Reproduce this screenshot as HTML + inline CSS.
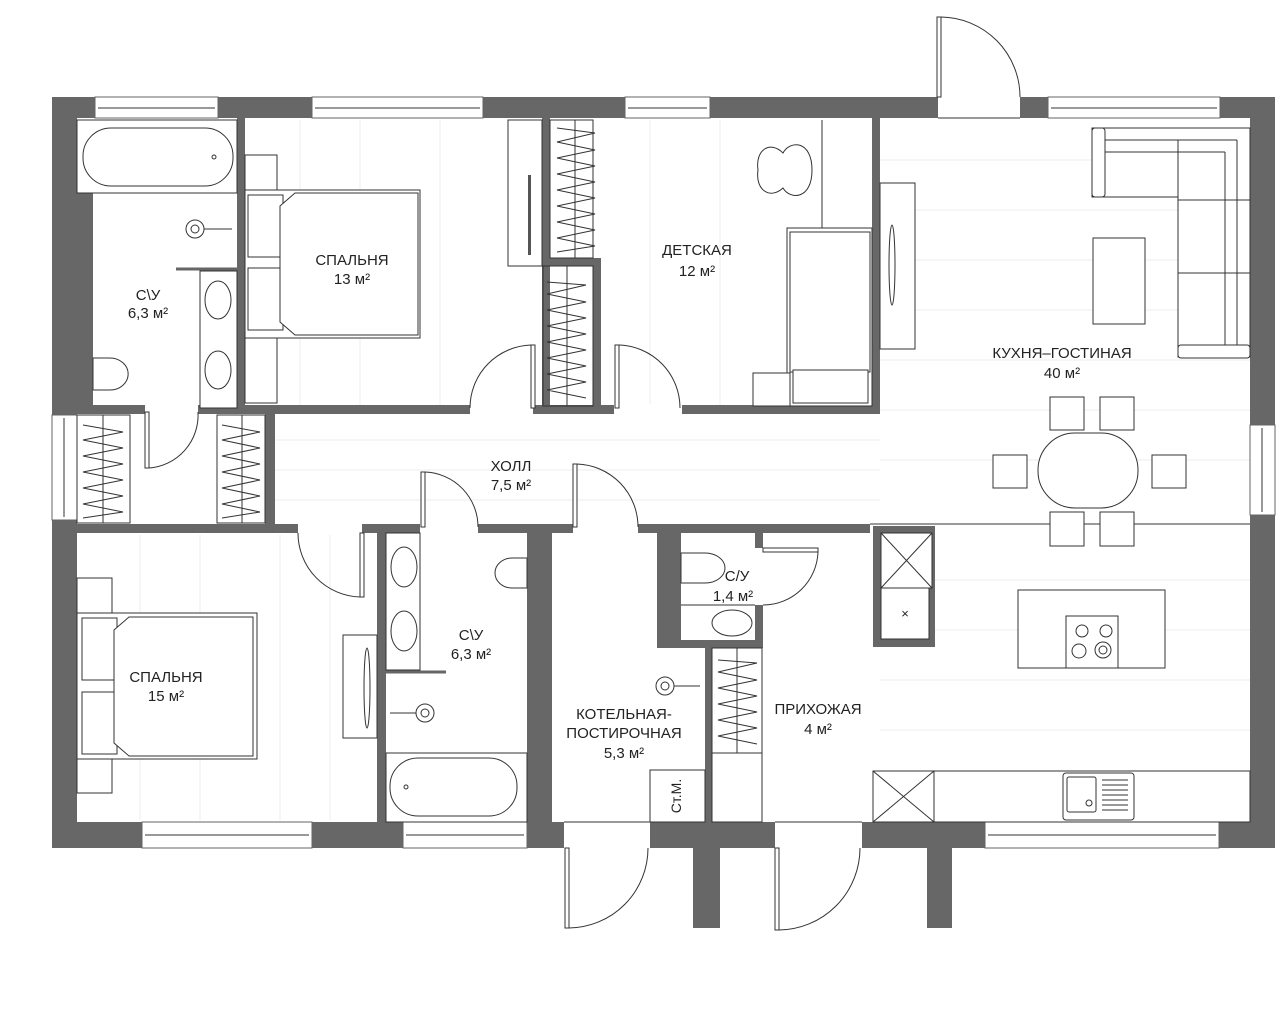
<!DOCTYPE html>
<html><head><meta charset="utf-8"><style>
html,body{margin:0;padding:0;background:#fff}
svg{display:block}
text{font-family:"Liberation Sans Narrow","Liberation Sans",sans-serif;font-size:15px;fill:#222;text-anchor:middle}
.w{fill:#676767}
.f{fill:#fff;stroke:#333;stroke-width:1}
.l{stroke:#333;stroke-width:1;fill:none}
.g{stroke:#eee;stroke-width:1}
.win{fill:#fff;stroke:#666;stroke-width:1}
</style></head><body>
<svg width="1280" height="1024" viewBox="0 0 1280 1024" xmlns="http://www.w3.org/2000/svg">
<!-- faint floor lines -->
<g class="g">
<line x1="880" y1="160" x2="1250" y2="160"/><line x1="880" y1="210" x2="1250" y2="210"/><line x1="880" y1="260" x2="1250" y2="260"/><line x1="880" y1="310" x2="1250" y2="310"/><line x1="880" y1="360" x2="1250" y2="360"/><line x1="880" y1="410" x2="1250" y2="410"/><line x1="880" y1="460" x2="1250" y2="460"/>
<line x1="275" y1="440" x2="880" y2="440"/><line x1="275" y1="470" x2="880" y2="470"/><line x1="275" y1="500" x2="880" y2="500"/>
<line x1="880" y1="580" x2="1250" y2="580"/><line x1="880" y1="630" x2="1250" y2="630"/><line x1="880" y1="680" x2="1250" y2="680"/><line x1="880" y1="730" x2="1250" y2="730"/>
<line x1="300" y1="120" x2="300" y2="405"/><line x1="360" y1="120" x2="360" y2="405"/><line x1="440" y1="120" x2="440" y2="405"/><line x1="650" y1="120" x2="650" y2="405"/><line x1="720" y1="120" x2="720" y2="405"/>
<line x1="140" y1="535" x2="140" y2="820"/><line x1="200" y1="535" x2="200" y2="820"/><line x1="280" y1="535" x2="280" y2="820"/><line x1="330" y1="535" x2="330" y2="820"/>
</g>

<!-- outer walls -->
<rect class="w" x="52" y="97" width="1223" height="21"/>
<rect class="w" x="52" y="97" width="25" height="751"/>
<rect class="w" x="1250" y="97" width="25" height="751"/>
<rect class="w" x="52" y="822" width="1223" height="26"/>
<rect class="w" x="77" y="193" width="16" height="215"/>
<rect class="w" x="693" y="848" width="27" height="80"/>
<rect class="w" x="927" y="848" width="25" height="80"/>
<!-- windows top -->
<rect class="win" x="95" y="97" width="123" height="21"/><line class="l" x1="98" y1="108" x2="215" y2="108"/>
<rect class="win" x="312" y="97" width="171" height="21"/><line class="l" x1="315" y1="108" x2="480" y2="108"/>
<rect class="win" x="625" y="97" width="85" height="21"/><line class="l" x1="628" y1="108" x2="707" y2="108"/>
<rect class="win" x="1048" y="97" width="172" height="21"/><line class="l" x1="1051" y1="108" x2="1217" y2="108"/>
<rect fill="#fff" x="938" y="96" width="82" height="23"/><line class="l" x1="938" y1="118" x2="1020" y2="118"/>
<!-- windows sides -->
<rect class="win" x="52" y="415" width="25" height="105"/><line class="l" x1="64" y1="418" x2="64" y2="517"/>
<rect class="win" x="1250" y="425" width="25" height="90"/><line class="l" x1="1262" y1="428" x2="1262" y2="512"/>
<!-- windows bottom -->
<rect class="win" x="142" y="822" width="170" height="26"/><line class="l" x1="145" y1="835" x2="309" y2="835"/>
<rect class="win" x="403" y="822" width="124" height="26"/><line class="l" x1="406" y1="835" x2="524" y2="835"/>
<rect class="win" x="985" y="822" width="234" height="26"/><line class="l" x1="988" y1="835" x2="1216" y2="835"/>
<rect fill="#fff" x="564" y="821" width="86" height="28"/><line class="l" x1="564" y1="822" x2="650" y2="822"/>
<rect fill="#fff" x="775" y="821" width="87" height="28"/><line class="l" x1="775" y1="822" x2="862" y2="822"/>

<!-- interior walls -->
<rect class="w" x="237" y="118" width="8" height="290"/>
<rect class="w" x="52" y="405" width="828" height="9"/>
<rect class="w" x="872" y="118" width="8" height="296"/>
<rect class="w" x="542" y="118" width="8" height="290"/>
<rect class="w" x="550" y="258" width="50" height="8"/>
<rect class="w" x="593" y="258" width="8" height="150"/>
<rect class="w" x="265" y="414" width="10" height="118"/>
<rect class="w" x="52" y="524" width="818" height="9"/>
<rect class="w" x="377" y="533" width="9" height="289"/>
<rect class="w" x="527" y="533" width="17" height="289"/>
<rect class="w" x="544" y="533" width="8" height="289"/>
<rect class="w" x="657" y="526" width="8" height="122"/>
<rect class="w" x="665" y="533" width="16" height="108"/>
<rect class="w" x="657" y="640" width="106" height="8"/>
<rect class="w" x="755" y="526" width="8" height="22"/>
<rect class="w" x="755" y="605" width="8" height="43"/>
<rect class="w" x="705" y="648" width="7" height="174"/>
<line class="l" x1="870" y1="524" x2="1250" y2="524"/>
<!-- door openings in walls -->
<rect fill="#fff" x="145" y="404" width="53" height="11"/>
<rect fill="#fff" x="470" y="404" width="63" height="11"/>
<rect fill="#fff" x="614" y="404" width="68" height="11"/>
<rect fill="#fff" x="420" y="523" width="58" height="11"/>
<rect fill="#fff" x="573" y="523" width="65" height="11"/>
<rect fill="#fff" x="298" y="523" width="64" height="11"/>
<rect fill="#fff" x="754" y="548" width="10" height="57"/>

<!-- doors -->
<g class="l">
<rect x="937" y="17" width="4" height="80" fill="#fff"/><path d="M941 17 A80 80 0 0 1 1020 97"/>
<rect x="145" y="412" width="4" height="56" fill="#fff"/><path d="M149 468 A53 53 0 0 0 198 412"/>
<rect x="531" y="345" width="4" height="63" fill="#fff"/><path d="M531 345 A63 63 0 0 0 470 408"/>
<rect x="615" y="345" width="4" height="63" fill="#fff"/><path d="M619 345 A63 63 0 0 1 680 408"/>
<rect x="421" y="472" width="4" height="55" fill="#fff"/><path d="M425 472 A55 55 0 0 1 478 527"/>
<rect x="573" y="464" width="4" height="63" fill="#fff"/><path d="M577 464 A63 63 0 0 1 638 527"/>
<rect x="360" y="533" width="4" height="64" fill="#fff"/><path d="M360 597 A64 64 0 0 1 298 533"/>
<rect x="763" y="548" width="55" height="4" fill="#fff"/><path d="M818 552 A55 55 0 0 1 763 605"/>
<rect x="565" y="848" width="4" height="80" fill="#fff"/><path d="M569 928 A80 80 0 0 0 648 848"/>
<rect x="775" y="848" width="4" height="82" fill="#fff"/><path d="M779 930 A82 82 0 0 0 860 848"/>
</g>

<!-- bath 1 -->
<rect class="f" x="77" y="120" width="160" height="73"/>
<rect class="f" x="83" y="128" width="150" height="58" rx="28"/>
<circle class="l" cx="214" cy="157" r="2"/>
<circle class="l" cx="195" cy="229" r="9"/><circle class="l" cx="195" cy="229" r="4"/><line class="l" x1="204" y1="229" x2="232" y2="229"/>
<line x1="176" y1="269" x2="237" y2="269" stroke="#666" stroke-width="3"/>
<rect class="f" x="200" y="271" width="37" height="137"/>
<ellipse class="l" cx="218" cy="300" rx="13" ry="19"/><ellipse class="l" cx="218" cy="370" rx="13" ry="19"/>
<path class="l" d="M93 358 L110 358 A17 15 0 1 1 110 390 L93 390 Z"/>
<!-- bedroom 13 -->
<rect class="f" x="245" y="155" width="32" height="78"/>
<rect class="f" x="245" y="333" width="32" height="70"/>
<rect class="f" x="245" y="190" width="175" height="148"/>
<rect class="f" x="248" y="195" width="35" height="62"/><rect class="f" x="248" y="268" width="35" height="62"/>
<path class="f" d="M280 206 L295 193 L418 193 L418 335 L295 335 L280 322 Z"/>
<rect class="f" x="508" y="120" width="34" height="146"/>
<rect x="528" y="175" width="3" height="80" fill="#555"/>
<!-- wardrobes zigzag -->
<g class="l">
<rect x="550" y="120" width="43" height="138"/><line x1="575" y1="120" x2="575" y2="258"/>
<path d="M557 128 L595 133 L557 142 L595 150 L557 158 L595 166 L557 174 L595 182 L557 190 L595 198 L557 206 L595 214 L557 222 L595 230 L557 238 L595 246 L557 252"/>
<rect x="543" y="266" width="50" height="140"/><line x1="567" y1="266" x2="567" y2="406"/>
<path d="M547 282 L586 285 L547 294 L586 302 L547 310 L586 318 L547 326 L586 334 L547 342 L586 350 L547 358 L586 366 L547 374 L586 382 L547 390 L586 398"/>
<rect x="77" y="415" width="53" height="108"/><line x1="103" y1="415" x2="103" y2="523"/>
<path d="M83 425 L123 432 L83 440 L123 448 L83 456 L123 464 L83 472 L123 480 L83 488 L123 496 L83 504 L123 512 L83 518"/>
<rect x="217" y="415" width="48" height="108"/><line x1="242" y1="415" x2="242" y2="523"/>
<path d="M222 425 L260 432 L222 440 L260 448 L222 456 L260 464 L222 472 L260 480 L222 488 L260 496 L222 504 L260 512 L222 518"/>
<rect x="712" y="648" width="50" height="105"/><line x1="737" y1="648" x2="737" y2="753"/>
<path d="M718 660 L757 663 L718 672 L757 680 L718 688 L757 696 L718 704 L757 712 L718 720 L757 728 L718 736 L757 744"/>
<rect x="712" y="753" width="50" height="69"/>
</g>
<!-- kids -->
<path class="l" d="M783 153 C770 140 755 150 758 170 C755 190 770 200 783 188 C790 200 812 200 812 170 C812 140 790 140 783 153 Z"/>
<line class="l" x1="822" y1="120" x2="822" y2="228"/>
<rect class="f" x="787" y="228" width="85" height="178"/>
<rect class="f" x="790" y="232" width="80" height="140"/>
<rect class="f" x="793" y="370" width="75" height="33"/>
<rect class="f" x="753" y="373" width="37" height="33"/>
<rect class="f" x="880" y="183" width="35" height="166"/>
<ellipse cx="892" cy="265" rx="3" ry="40" fill="#fff" stroke="#333"/>
<!-- living -->
<path class="f" d="M1092 128 L1250 128 L1250 357 L1178 357 L1178 197 L1092 197 Z"/>
<rect class="f" x="1092" y="128" width="13" height="69" rx="3"/>
<rect class="f" x="1178" y="345" width="72" height="13" rx="3"/>
<line class="l" x1="1105" y1="140" x2="1237" y2="140"/><line class="l" x1="1105" y1="152" x2="1225" y2="152"/>
<line class="l" x1="1225" y1="152" x2="1225" y2="345"/><line class="l" x1="1237" y1="140" x2="1237" y2="345"/>
<line class="l" x1="1178" y1="200" x2="1250" y2="200"/><line class="l" x1="1178" y1="273" x2="1250" y2="273"/>
<line class="l" x1="1178" y1="140" x2="1178" y2="197"/>
<rect class="f" x="1093" y="238" width="52" height="86"/>
<!-- dining -->
<rect class="f" x="1038" y="433" width="100" height="75" rx="37"/>
<rect class="f" x="1050" y="397" width="34" height="33"/><rect class="f" x="1100" y="397" width="34" height="33"/>
<rect class="f" x="993" y="455" width="34" height="33"/><rect class="f" x="1152" y="455" width="34" height="33"/>
<rect class="f" x="1050" y="512" width="34" height="34"/><rect class="f" x="1100" y="512" width="34" height="34"/>
<!-- kitchen -->
<rect class="w" x="873" y="526" width="62" height="121"/>
<rect class="f" x="881" y="533" width="51" height="55"/><path class="l" d="M881 533 L932 588 M932 533 L881 588"/>
<rect class="f" x="881" y="588" width="48" height="51"/><text x="905" y="618" style="font-size:13px">×</text>
<rect class="f" x="1018" y="590" width="147" height="78"/>
<rect class="f" x="1066" y="616" width="52" height="52"/>
<circle class="l" cx="1082" cy="631" r="6"/><circle class="l" cx="1106" cy="631" r="6"/><circle class="l" cx="1079" cy="651" r="7"/><circle class="l" cx="1103" cy="650" r="8"/><circle class="l" cx="1103" cy="650" r="4"/>
<rect class="f" x="873" y="771" width="377" height="51"/>
<rect class="f" x="873" y="771" width="61" height="51"/><path class="l" d="M873 771 L934 822 M934 771 L873 822"/>
<rect class="f" x="1063" y="773" width="71" height="47" rx="3"/><rect class="f" x="1067" y="777" width="29" height="35" rx="2"/><circle class="l" cx="1089" cy="803" r="3"/>
<g class="l"><line x1="1102" y1="780" x2="1128" y2="780"/><line x1="1102" y1="785" x2="1128" y2="785"/><line x1="1102" y1="790" x2="1128" y2="790"/><line x1="1102" y1="795" x2="1128" y2="795"/><line x1="1102" y1="800" x2="1128" y2="800"/><line x1="1102" y1="805" x2="1128" y2="805"/><line x1="1102" y1="810" x2="1128" y2="810"/></g>
<!-- bedroom 15 -->
<rect class="f" x="77" y="578" width="35" height="40"/><rect class="f" x="77" y="755" width="35" height="38"/>
<rect class="f" x="77" y="613" width="180" height="146"/>
<rect class="f" x="82" y="618" width="35" height="62"/><rect class="f" x="82" y="692" width="35" height="62"/>
<path class="f" d="M114 630 L129 617 L253 617 L253 756 L129 756 L114 743 Z"/>
<rect class="f" x="343" y="635" width="34" height="103"/>
<ellipse cx="367" cy="688" rx="3" ry="40" fill="#fff" stroke="#333"/>
<!-- bath 2 -->
<rect class="f" x="386" y="533" width="34" height="137"/>
<ellipse class="l" cx="404" cy="567" rx="13" ry="20"/><ellipse class="l" cx="404" cy="631" rx="13" ry="20"/>
<line x1="386" y1="672" x2="446" y2="672" stroke="#666" stroke-width="3"/>
<circle class="l" cx="425" cy="713" r="9"/><circle class="l" cx="425" cy="713" r="4"/><line class="l" x1="390" y1="713" x2="416" y2="713"/>
<path class="l" d="M527 558 L512 558 A17 15 0 1 0 512 588 L527 588 Z"/>
<rect class="f" x="386" y="753" width="141" height="69"/>
<rect class="f" x="390" y="758" width="127" height="58" rx="28"/><circle class="l" cx="406" cy="787" r="2"/>
<!-- boiler -->
<circle class="l" cx="665" cy="686" r="9"/><circle class="l" cx="665" cy="686" r="4"/><line class="l" x1="674" y1="686" x2="700" y2="686"/>
<rect class="f" x="650" y="770" width="55" height="52"/>
<text x="0" y="0" transform="translate(681,796) rotate(-90)" style="font-size:14px">Ст.М.</text>
<!-- WC small -->
<path class="l" d="M681 553 L705 553 A20 15 0 1 1 705 583 L681 583 Z"/>
<line class="l" x1="681" y1="605" x2="755" y2="605"/>
<ellipse class="l" cx="732" cy="623" rx="20" ry="13"/>

<!-- labels -->
<text x="352" y="265">СПАЛЬНЯ</text><text x="352" y="284">13 м²</text>
<text x="148" y="300">С\У</text><text x="148" y="318">6,3 м²</text>
<text x="697" y="255">ДЕТСКАЯ</text><text x="697" y="276">12 м²</text>
<text x="1062" y="358">КУХНЯ–ГОСТИНАЯ</text><text x="1062" y="378">40 м²</text>
<text x="511" y="471">ХОЛЛ</text><text x="511" y="490">7,5 м²</text>
<text x="166" y="682">СПАЛЬНЯ</text><text x="166" y="701">15 м²</text>
<text x="471" y="640">С\У</text><text x="471" y="659">6,3 м²</text>
<text x="737" y="581">С/У</text><text x="733" y="601">1,4 м²</text>
<text x="624" y="719">КОТЕЛЬНАЯ-</text><text x="624" y="738">ПОСТИРОЧНАЯ</text><text x="624" y="758">5,3 м²</text>
<text x="818" y="714">ПРИХОЖАЯ</text><text x="818" y="734">4 м²</text>
</svg>
</body></html>
